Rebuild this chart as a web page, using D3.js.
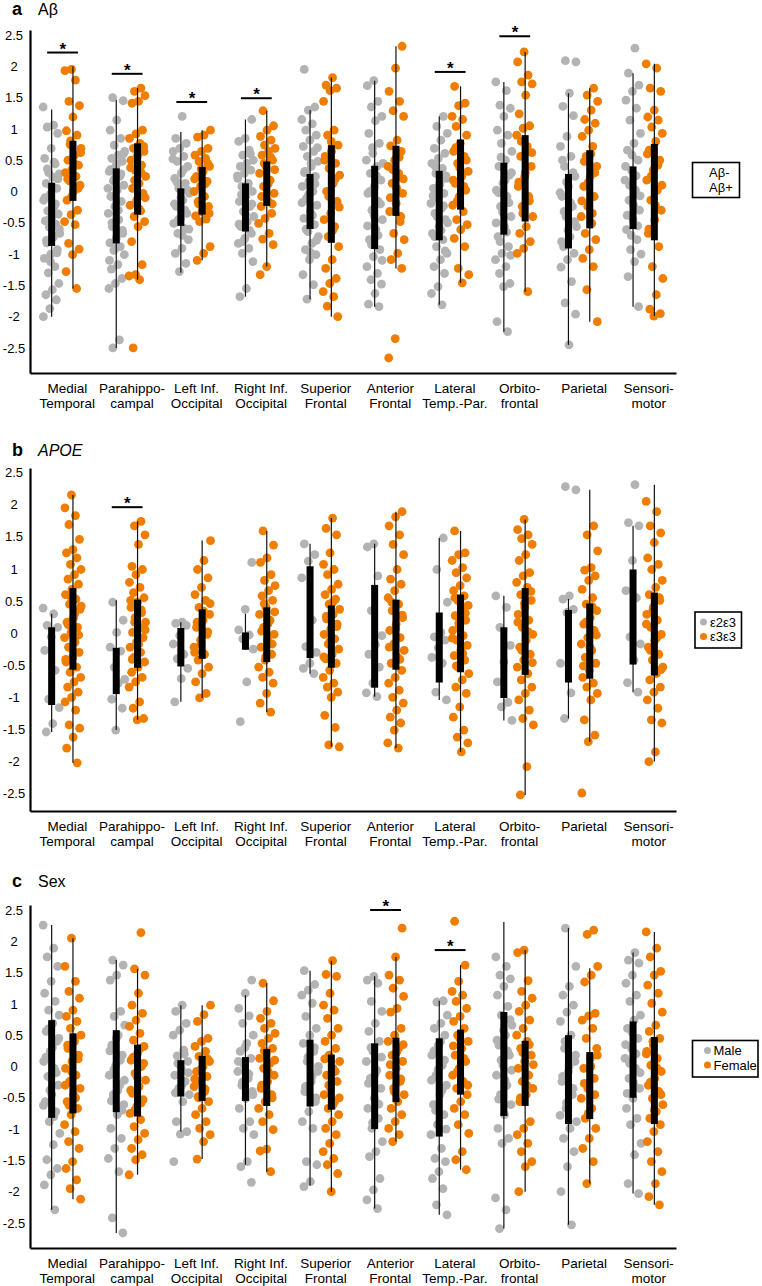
<!DOCTYPE html>
<html><head><meta charset="utf-8">
<script src="https://cdn.jsdelivr.net/npm/d3@7"></script>
<style>
body{margin:0;background:#fff}
svg{display:block}
text{font-family:"Liberation Sans", Arial, sans-serif;fill:#000}
</style>
</head><body>
<svg id="chart" width="762" height="1286"></svg>
<script>
// ---------- shared categories / ticks ----------
const regions = [["Medial","Temporal"],["Parahippo-","campal"],["Left Inf.","Occipital"],["Right Inf.","Occipital"],["Superior","Frontal"],["Anterior","Frontal"],["Lateral","Temp.-Par."],["Orbito-","frontal"],["Parietal"],["Sensori-","motor"]];
const yTickValues = [2.5,2,1.5,1,0.5,0,-0.5,-1,-1.5,-2,-2.5];

// ---------- panel a : Aβ ----------
const abNeg = [
[1.35,1.06,1.03,0.93,0.69,0.53,0.44,0.30,0.28,0.23,0.13,0.05,-0.04,-0.14,-0.24,-0.31,-0.36,-0.41,-0.47,-0.52,-0.57,-0.67,-0.73,-0.82,-0.93,-1.0,-1.07,-1.2,-1.3,-1.47,-1.57,-1.65,-1.73,-1.87,-2.0,0.47,0.36,0.2,0.08,-0.1,-0.2,-0.45,-0.6,-0.7,-0.78,-0.98,-1.12],
[1.5,1.45,1.14,0.98,0.85,0.74,0.64,0.58,0.53,0.48,0.4,0.32,0.24,0.17,0.1,0.02,-0.08,-0.16,-0.24,-0.35,-0.45,-0.56,-0.67,-0.75,-0.82,-0.88,-0.94,-1.01,-1.17,-1.24,-1.39,-1.47,-1.55,-2.37,-2.5,0.6,0.44,0.35,0.28,0.2,0.05,-0.3,-0.5,-0.62,-0.9,-1.1],
[1.2,0.85,0.77,0.69,0.64,0.56,0.48,0.4,0.29,0.21,0.13,0.05,-0.03,-0.14,-0.24,-0.35,-0.43,-0.51,-0.59,-0.67,-0.77,-0.91,-0.99,-1.15,-1.28,0.52,0.35,0.15,0.02,-0.1,-0.2,-0.3,-0.45,-0.6,-0.7],
[1.15,0.85,0.8,0.66,0.58,0.5,0.45,0.4,0.34,0.29,0.21,0.13,0.08,0.0,-0.08,-0.16,-0.24,-0.32,-0.4,-0.48,-0.56,-0.67,-0.75,-0.83,-0.91,-0.99,-1.12,-1.55,-1.68,0.6,0.38,0.25,0.1,-0.05,-0.2,-0.36,-0.52,-0.62,-0.8],
[1.95,1.35,1.30,1.15,1.08,0.98,0.9,0.82,0.72,0.64,0.56,0.48,0.4,0.32,0.24,0.16,0.08,0.0,-0.11,-0.22,-0.32,-0.43,-0.53,-0.64,-0.72,-0.83,-0.93,-1.01,-1.09,-1.33,-1.49,-1.72,0.7,0.45,0.3,0.12,-0.05,-0.18,-0.38,-0.6,-0.78,-0.97],
[1.77,1.69,1.44,1.35,1.2,1.13,0.93,0.77,0.61,0.5,0.4,0.29,0.18,0.08,-0.03,-0.16,-0.3,-0.45,-0.61,-0.77,-0.93,-1.04,-1.2,-1.31,-1.41,-1.48,-1.63,-1.8,-1.84,0.7,0.45,0.25,0.0,-0.2,-0.38,-0.55,-0.7,-0.85,-1.1],
[1.2,1.04,0.93,0.82,0.69,0.61,0.53,0.45,0.37,0.29,0.21,0.13,0.05,-0.03,-0.11,-0.19,-0.27,-0.35,-0.45,-0.56,-0.67,-0.77,-0.88,-0.99,-1.09,-1.2,-1.31,-1.52,-1.63,-1.81,0.4,0.25,0.1,-0.07,-0.23,-0.4,-0.5,-0.62,-0.72,-0.95],
[1.75,1.61,1.38,1.33,1.2,0.98,0.9,0.77,0.64,0.5,0.4,0.26,0.13,0.02,-0.08,-0.24,-0.4,-0.56,-0.72,-0.88,-0.99,-1.09,-1.2,-1.31,-1.47,-1.52,-2.08,-2.24,0.55,0.3,0.18,-0.02,-0.18,-0.33,-0.5,-0.65,-0.8,-1.02],
[2.09,2.07,1.57,1.36,1.21,0.88,0.72,0.56,0.4,0.24,0.08,-0.08,-0.24,-0.4,-0.56,-0.72,-0.88,-0.99,-1.09,-1.21,-1.44,-1.78,-1.96,-2.45,0.5,0.3,0.15,-0.02,-0.18,-0.32,-0.48,-0.62,-0.8],
[2.29,1.89,1.7,1.6,1.46,1.33,1.14,0.93,0.77,0.66,0.5,0.34,0.18,0.02,-0.14,-0.3,-0.45,-0.61,-0.77,-0.93,-1.0,-1.12,-1.36,-1.84,0.58,0.4,0.25,0.1,-0.07,-0.22,-0.38,-0.55,-0.7]
];
const abPos = [
[1.95,1.93,1.78,1.44,1.37,1.19,0.97,0.9,0.81,0.69,0.58,0.5,0.42,0.35,0.3,0.24,0.17,0.10,0.0,-0.14,-0.3,-0.37,-0.48,-0.53,-0.83,-0.92,-1.01,-1.28,-1.55,0.75,0.62,0.45,0.2,0.05,-0.08],
[1.65,1.6,1.53,1.44,1.41,0.98,0.92,0.85,0.77,0.69,0.64,0.58,0.5,0.42,0.34,0.24,0.13,0.05,-0.03,-0.14,-0.22,-0.31,-0.4,-0.48,-0.56,-0.8,-1.17,-1.33,-1.35,-1.41,-2.5,0.72,0.55,0.38,0.3,0.18,-0.1,-0.27],
[0.98,0.9,0.87,0.69,0.64,0.58,0.53,0.48,0.4,0.32,0.24,0.16,0.08,0.0,-0.08,-0.16,-0.24,-0.32,-0.39,-0.44,-0.48,-0.88,-0.99,-1.1,0.45,0.36,0.2,0.12,-0.2,-0.35],
[1.29,1.05,0.98,0.88,0.82,0.74,0.69,0.64,0.58,0.5,0.4,0.29,0.18,0.08,-0.03,-0.14,-0.24,-0.35,-0.43,-0.51,-0.67,-0.76,-0.85,-1.2,-1.33,0.55,0.45,0.35,0.12,-0.08,-0.2],
[1.82,1.7,1.65,1.61,1.44,0.98,0.9,0.74,0.64,0.56,0.45,0.37,0.26,0.13,0.0,-0.16,-0.35,-0.45,-0.56,-0.72,-0.88,-1.09,-1.23,-1.39,-1.47,-1.6,-1.68,-1.83,-2.0,0.8,0.5,0.2,-0.08,-0.25,-0.62],
[2.32,1.97,1.6,1.44,1.29,1.2,0.82,0.73,0.64,0.5,0.4,0.29,0.13,-0.03,-0.19,-0.32,-0.48,-0.67,-0.77,-0.99,-1.09,-1.23,-2.35,-2.66,0.55,0.35,0.2,0.05,-0.1,-0.4],
[1.68,1.41,1.37,1.2,1.15,1.04,0.9,0.77,0.64,0.56,0.45,0.32,0.24,0.13,0.02,-0.08,-0.22,-0.32,-0.45,-0.53,-0.61,-0.75,-0.88,-1.23,-1.33,-1.46,0.7,0.5,0.38,0.18,0.08,-0.15],
[2.23,2.07,1.86,1.75,1.72,1.54,1.24,1.05,1.01,0.9,0.72,0.56,0.4,0.24,0.08,-0.08,-0.24,-0.4,-0.56,-0.67,-0.8,-0.91,-0.99,-1.6,0.8,0.62,0.3,0.15,-0.15,-0.35],
[1.65,1.54,1.44,1.3,1.15,1.09,0.98,0.88,0.72,0.56,0.4,0.24,0.08,-0.08,-0.24,-0.4,-0.51,-0.67,-0.77,-0.93,-1.07,-1.2,-1.57,-2.08,0.6,0.48,0.3,0.15,-0.15,-0.35],
[2.04,1.97,1.65,1.6,1.3,1.19,1.14,1.03,0.93,0.8,0.66,0.5,0.34,0.18,0.02,-0.14,-0.3,-0.45,-0.67,-0.88,-1.2,-1.39,-1.65,-1.88,-1.95,-1.99,0.6,0.42,0.25,0.1,-0.22,-0.6]
];
const abNegIQR = [[-0.87,0.14],[-0.83,0.37],[-0.55,0.05],[-0.64,0.13],[-0.6,0.28],[-0.92,0.41],[-0.78,0.33],[-0.69,0.46],[-0.91,0.28],[-0.6,0.4]];
const abPosIQR = [[-0.15,0.81],[-0.37,0.77],[-0.37,0.39],[-0.23,0.48],[-0.82,0.74],[-0.39,0.73],[-0.29,0.83],[-0.48,0.9],[-0.59,0.66],[-0.78,0.76]];
const abNegRange = [[-2.0,1.31],[-2.5,1.46],[-1.3,0.95],[-1.68,1.15],[-1.72,1.3],[-1.84,1.77],[-1.81,1.2],[-2.24,1.75],[-2.45,1.57],[-1.84,1.89]];
const abPosRange = [[-1.55,2.0],[-1.41,1.65],[-1.1,0.98],[-1.2,1.29],[-2.0,1.82],[-1.23,2.32],[-1.46,1.68],[-1.6,2.23],[-2.08,1.65],[-1.99,2.04]];
const abSigRegion = [0,1,2,3,6,7];
const abSigLevel = [2.22,1.88,1.43,1.49,1.91,2.48];

// ---------- panel b : APOE ----------
const apoe23 = [
[0.39,0.30,0.12,0.09,-0.06,-0.27,-0.58,-1.03,-1.16,-1.41,-1.54],
[0.48,0.20,0.01,-0.22,-0.28,-0.53,-0.72,-0.78,-1.03,-1.17,-1.51],
[0.17,0.15,0.12,-0.04,-0.17,-0.33,-0.40,-0.55,-0.71,-1.07],
[1.10,0.37,0.05,-0.03,-0.09,-0.25,-0.76,-1.38],
[1.39,1.22,1.12,0.86,0.20,-0.21,-0.30,-0.47,-0.55,-0.63],
[1.39,1.34,0.89,0.35,-0.04,-0.18,-0.33,-0.53,-0.78,-0.93,-0.99],
[1.48,0.99,0.48,0.01,-0.06,-0.11,-0.23,-0.38,-0.47,-0.92,-1.04],
[0.58,0.40,0.09,-0.19,-0.45,-0.76,-1.08,-1.15,-1.36],
[2.28,2.23,0.58,0.53,0.37,0.32,-0.47,-0.93,-1.33],
[2.31,1.72,1.67,1.13,0.66,0.55,-0.06,-0.17,-0.42,-0.77,-0.92]
];
const apoe33 = [
[2.15,1.95,1.83,1.69,1.46,1.30,1.25,1.17,1.07,0.99,0.91,0.84,0.76,0.68,0.60,0.53,0.45,0.37,0.24,0.17,0.09,0.01,-0.07,-0.14,-0.22,-0.30,-0.38,-0.45,-0.53,-0.61,-0.69,-0.76,-0.84,-0.92,-1.00,-1.07,-1.20,-1.43,-1.48,-1.62,-1.79,-2.02,0.57,0.42,0.30,0.13,-0.03,-0.25,-0.41],
[1.74,1.67,1.53,1.38,1.04,0.99,0.91,0.79,0.71,0.63,0.55,0.48,0.40,0.32,0.24,0.17,0.09,0.01,-0.07,-0.14,-0.22,-0.30,-0.38,-0.45,-0.53,-0.61,-0.69,-0.76,-0.84,-1.07,-1.17,-1.33,-1.35,0.51,0.36,0.17,0.05,-0.17,-0.41],
[1.44,1.13,0.99,0.86,0.71,0.60,0.51,0.40,0.29,0.20,0.09,-0.02,-0.11,-0.22,-0.33,-0.42,-0.53,-0.63,-0.76,-0.94,-1.01,0.46,0.34,0.17,0.02,-0.17,-0.30],
[1.59,1.37,1.17,1.10,0.91,0.82,0.74,0.66,0.58,0.51,0.40,0.29,0.20,0.09,-0.02,-0.11,-0.22,-0.33,-0.42,-0.53,-0.61,-0.69,-0.78,-0.94,-1.09,-1.23,0.46,0.33,0.15,0.03,-0.17,-0.37],
[1.79,1.63,1.53,1.25,1.07,0.99,0.91,0.76,0.68,0.60,0.53,0.45,0.37,0.29,0.22,0.14,0.06,-0.02,-0.09,-0.17,-0.25,-0.33,-0.40,-0.47,-0.58,-0.69,-0.78,-0.84,-0.92,-1.00,-1.28,-1.47,-1.74,-1.77,0.48,0.26,0.10,-0.12,-0.37],
[1.89,1.81,1.67,1.53,1.38,1.22,0.99,0.84,0.76,0.66,0.55,0.45,0.35,0.24,0.14,0.04,-0.07,-0.17,-0.27,-0.38,-0.47,-0.58,-0.69,-0.78,-0.89,-1.00,-1.09,-1.20,-1.31,-1.40,-1.51,-1.71,-1.79,0.48,0.28,0.07,-0.22,-0.41],
[1.59,1.25,1.22,1.13,1.02,0.94,0.86,0.74,0.66,0.58,0.51,0.43,0.35,0.27,0.20,0.12,0.04,-0.04,-0.11,-0.19,-0.27,-0.35,-0.42,-0.53,-0.63,-0.73,-0.84,-0.94,-1.15,-1.31,-1.51,-1.62,-1.71,-1.85,0.55,0.31,0.15,-0.08,-0.32,-0.51],
[1.77,1.61,1.53,1.47,1.38,1.22,1.13,0.94,0.89,0.79,0.71,0.60,0.51,0.40,0.29,0.20,0.09,-0.02,-0.11,-0.22,-0.33,-0.42,-0.53,-0.63,-0.73,-0.84,-0.94,-1.04,-1.20,-1.33,-1.43,-2.08,-2.52,0.65,0.46,0.17,0.02,-0.27,-0.46],
[1.67,1.53,1.28,1.02,0.98,0.89,0.82,0.68,0.55,0.45,0.35,0.24,0.14,0.04,-0.07,-0.17,-0.27,-0.38,-0.47,-0.58,-0.69,-0.78,-0.84,-0.94,-1.04,-1.35,-1.59,-1.69,-2.49,0.41,0.17,-0.03,-0.22,-0.51],
[2.05,1.89,1.67,1.56,1.41,1.17,1.07,0.99,0.82,0.71,0.60,0.51,0.40,0.29,0.20,0.09,-0.02,-0.11,-0.22,-0.33,-0.42,-0.53,-0.63,-0.73,-0.84,-0.92,-1.04,-1.17,-1.35,-1.40,-1.85,-2.00,0.55,0.36,0.14,-0.07,-0.27,-0.57]
];
const apoe23IQR = [[-1.12,0.09],[-0.95,-0.23],[-0.52,0.08],[-0.26,0.01],[-0.39,1.04],[-0.85,0.75],[-0.77,0.32],[-1.01,0.09],[-0.77,0.36],[-0.49,0.99]];
const apoe33IQR = [[-0.57,0.7],[-0.54,0.52],[-0.40,0.37],[-0.45,0.40],[-0.54,0.43],[-0.57,0.52],[-0.61,0.60],[-0.65,0.70],[-0.71,0.46],[-0.66,0.63]];
const apoe23Range = [[-1.54,0.30],[-1.51,0.51],[-1.07,0.17],[-0.26,0.30],[-0.63,1.39],[-0.99,1.39],[-1.04,1.48],[-1.36,0.58],[-1.33,0.53],[-0.92,1.67]];
const apoe33Range = [[-2.02,2.15],[-1.35,1.74],[-1.01,1.44],[-1.23,1.59],[-1.77,1.79],[-1.79,1.89],[-1.85,1.59],[-2.52,1.77],[-1.69,2.23],[-2.0,2.31]];
const apoeSigRegion = [1];
const apoeSigLevel = [1.96];

// ---------- panel c : Sex ----------
const male = [
[2.26,1.89,1.75,1.6,1.36,1.17,1.04,0.9,0.82,0.69,0.56,0.4,0.24,0.08,-0.03,-0.16,-0.3,-0.45,-0.56,-0.72,-0.88,-1.07,-1.25,-1.49,-1.63,-1.73,-1.89,-2.29,0.6,0.45,0.3,0.15,-0.1,-0.38,-0.62,-0.8],
[1.7,1.62,1.46,1.38,0.88,0.8,0.66,0.5,0.34,0.18,0.02,-0.14,-0.3,-0.45,-0.61,-0.77,-0.99,-1.15,-1.31,-1.47,-1.68,-2.42,-2.66,0.45,0.25,0.1,-0.05,-0.22,-0.38,-0.55,-0.7],
[0.98,0.88,0.69,0.58,0.5,0.26,0.17,0.08,-0.03,-0.14,-0.24,-0.35,-0.45,-0.56,-0.88,-1.04,-1.08,-1.52,0.2,0.05,-0.1,-0.3,-0.42],
[1.38,1.17,0.93,0.81,0.69,0.5,0.37,0.24,0.13,0.02,-0.08,-0.19,-0.3,-0.4,-0.51,-0.67,-0.88,-0.99,-1.09,-1.52,-1.6,-1.85,0.3,0.08,-0.12,-0.25,-0.45],
[1.53,1.31,1.22,1.14,1.01,0.8,0.61,0.5,0.37,0.24,0.08,-0.08,-0.24,-0.4,-0.56,-0.72,-0.88,-0.99,-1.52,-1.57,-1.84,-1.92,0.3,0.15,0.0,-0.16,-0.32,-0.5],
[1.44,1.38,1.33,1.04,0.88,0.69,0.56,0.4,0.24,0.08,-0.06,-0.19,-0.35,-0.51,-0.67,-0.83,-0.99,-1.2,-1.36,-1.44,-1.79,-1.97,-2.13,-2.27,0.3,0.15,-0.12,-0.27,-0.6,-0.9],
[1.05,1.03,0.82,0.69,0.61,0.5,0.34,0.18,0.02,-0.14,-0.3,-0.45,-0.61,-0.77,-0.93,-1.09,-1.31,-1.47,-1.52,-1.68,-1.79,-1.95,-2.21,-2.37,0.4,0.25,0.1,-0.05,-0.22,-0.38,-0.7,-1.0],
[1.75,1.6,1.46,1.4,1.28,1.14,0.96,0.82,0.66,0.5,0.34,0.18,0.02,-0.14,-0.3,-0.45,-0.61,-0.77,-0.99,-1.15,-1.23,-2.1,-2.29,-2.59,0.75,0.58,0.42,0.25,0.1,-0.06,-0.22,-0.52],
[2.21,1.6,1.28,1.14,0.98,0.87,0.72,0.5,0.29,0.08,-0.08,-0.24,-0.45,-0.67,-0.88,-0.99,-1.15,-1.36,-1.6,-2.0,-2.53,0.4,0.18,0.0,-0.16,-0.35,-0.58,-0.78],
[1.82,1.7,1.65,1.46,1.33,1.14,1.04,0.82,0.74,0.61,0.45,0.29,0.13,-0.03,-0.19,-0.35,-0.51,-0.67,-0.83,-0.93,-1.23,-1.41,-1.87,-2.03,0.55,0.35,0.2,0.05,-0.1,-0.27,-0.43]
];
const female = [
[2.05,1.6,1.36,1.2,1.09,0.9,0.8,0.72,0.61,0.5,0.4,0.29,0.18,0.08,-0.03,-0.14,-0.24,-0.35,-0.45,-0.56,-0.67,-0.77,-0.93,-1.04,-1.2,-1.31,-1.52,-1.63,-1.81,-1.95,-2.12,0.45,0.34,0.12,-0.08,-0.3,-0.5,-0.62],
[2.14,1.56,1.46,1.17,0.98,0.85,0.74,0.64,0.53,0.42,0.32,0.21,0.1,0.0,-0.11,-0.22,-0.32,-0.43,-0.53,-0.64,-0.75,-0.85,-0.96,-1.07,-1.17,-1.31,-1.41,-1.49,-1.73,0.28,0.15,0.05,-0.17,-0.38,-0.58,-0.7],
[0.98,0.83,0.72,0.45,0.4,0.32,0.24,0.16,0.08,0.0,-0.08,-0.16,-0.24,-0.32,-0.4,-0.48,-0.56,-0.67,-0.77,-0.88,-0.99,-1.09,-1.2,-1.48,0.12,-0.04,-0.2,-0.36,-0.5],
[1.33,1.05,0.88,0.77,0.69,0.61,0.53,0.45,0.37,0.29,0.21,0.13,0.05,-0.03,-0.14,-0.24,-0.35,-0.45,-0.56,-0.67,-0.77,-0.88,-1.01,-1.32,-1.35,-1.68,0.25,0.1,-0.08,-0.3,-0.5],
[1.69,1.47,1.44,1.17,0.98,0.9,0.77,0.61,0.5,0.4,0.29,0.18,0.08,-0.03,-0.14,-0.24,-0.35,-0.45,-0.56,-0.67,-0.77,-0.88,-0.99,-1.09,-1.23,-1.36,-1.47,-1.57,-1.71,-2.0,0.12,-0.08,-0.3,-0.5,-0.62],
[2.21,1.75,1.46,1.38,1.25,1.12,0.93,0.87,0.61,0.5,0.4,0.29,0.18,0.08,-0.03,-0.14,-0.24,-0.35,-0.45,-0.56,-0.67,-0.77,-0.88,-0.99,-1.09,-1.2,0.35,0.23,0.03,-0.2,-0.4],
[2.32,1.62,1.36,1.2,1.14,1.04,0.93,0.8,0.72,0.61,0.5,0.4,0.29,0.18,0.08,-0.03,-0.14,-0.24,-0.35,-0.45,-0.56,-0.67,-0.77,-0.93,-1.07,-1.36,-1.49,-1.65,0.45,0.33,0.13,-0.08,-0.3],
[1.86,1.82,1.37,1.2,1.09,0.98,0.88,0.74,0.61,0.5,0.4,0.29,0.18,0.08,-0.03,-0.14,-0.24,-0.35,-0.45,-0.56,-0.88,-0.99,-1.09,-1.23,-1.36,-1.52,-1.6,-2.0,0.35,0.22,0.03,-0.3,-0.5],
[2.18,2.11,1.6,1.46,1.35,0.85,0.81,0.74,0.61,0.45,0.29,0.13,-0.03,-0.19,-0.35,-0.51,-0.67,-0.83,-0.99,-1.15,-1.31,-1.52,-1.87,0.18,0.0,-0.27,-0.45,-0.75],
[2.15,1.89,1.75,1.52,1.46,1.3,1.17,1.01,0.87,0.66,0.56,0.45,0.34,0.24,0.13,0.02,-0.08,-0.19,-0.3,-0.4,-0.51,-0.61,-0.72,-0.83,-0.93,-1.04,-1.2,-1.36,-1.52,-1.68,-1.87,-2.08,-2.21,0.4,0.2,-0.02,-0.25,-0.45,-0.7]
];
const maleIQR = [[-0.82,0.74],[-0.73,0.58],[-0.48,0.1],[-0.55,0.15],[-0.64,0.43],[-1.0,0.37],[-1.12,0.45],[-0.79,0.87],[-0.92,0.5],[-0.5,0.72]];
const femaleIQR = [[-0.75,0.53],[-0.8,0.35],[-0.55,0.17],[-0.63,0.28],[-0.69,0.19],[-0.57,0.46],[-0.45,0.59],[-0.63,0.41],[-0.84,0.23],[-0.92,0.47]];
const maleRange = [[-2.29,2.26],[-2.66,1.7],[-1.04,0.98],[-1.57,1.14],[-1.9,1.53],[-2.27,1.44],[-2.37,1.05],[-2.59,2.31],[-2.53,2.21],[-2.03,1.82]];
const femaleRange = [[-2.12,2.05],[-1.73,1.56],[-1.48,0.98],[-1.68,1.33],[-2.0,1.69],[-1.2,1.75],[-1.65,1.62],[-2.0,1.86],[-1.87,1.57],[-2.21,2.15]];
const sexSigRegion = [5,6];
const sexSigLevel = [2.5,1.86];

// ---------- styling ----------
const GRAY = "#b3b3b3", ORANGE = "#ef7d00";

const panels = [
  {top:30, titleY:15, yDomain:[-2.9,2.58], letter:"a", title:"Aβ", italic:false, series:[abNeg,abPos], iqr:[abNegIQR,abPosIQR], range:[abNegRange,abPosRange], sig:[abSigRegion,abSigLevel], legend:{names:["Aβ-","Aβ+"], markers:false, box:[692.5,162.5,47,35]}},
  {top:468, titleY:456, yDomain:[-2.77,2.57], letter:"b", title:"APOE", italic:true, series:[apoe23,apoe33], iqr:[apoe23IQR,apoe33IQR], range:[apoe23Range,apoe33Range], sig:[apoeSigRegion,apoeSigLevel], legend:{names:["ε2ε3","ε3ε3"], markers:true, box:[695,612,46.5,36]}},
  {top:905, titleY:887, yDomain:[-2.9,2.58], letter:"c", title:"Sex", italic:false, series:[male,female], iqr:[maleIQR,femaleIQR], range:[maleRange,femaleRange], sig:[sexSigRegion,sexSigLevel], legend:{names:["Male","Female"], markers:true, box:[692.5,1040.5,65.5,36.5]}}
];

const svg = d3.select("#chart");
const H = 343;
const x = d3.scaleBand().domain(d3.range(regions.length)).range([30,676]);
const half = 10.65, barW = 7, jitterW = 17;
const colors = [GRAY, ORANGE];

panels.forEach(p => {
  const y = d3.scaleLinear().domain(p.yDomain).range([p.top + H, p.top]);
  const g = svg.append("g");

  // title
  const t = g.append("text").attr("x", 12).attr("y", p.titleY).style("font-size","16px");
  t.append("tspan").attr("font-weight","bold").style("font-size","18px").text(p.letter);
  t.append("tspan").attr("x", 38).style("font-style", p.italic ? "italic" : "normal").text(p.title);

  // points
  p.series.forEach((ser, s) => {
    ser.forEach((vals, r) => {
      const cx = x(r) + x.bandwidth()/2 + (s === 0 ? -half : half);
      g.append("g").selectAll("circle").data(vals).join("circle")
        .attr("cx", (d, i) => cx + (((i * 0.6180339887 + r * 0.29 + s * 0.41) % 1) - 0.5) * jitterW)
        .attr("cy", d => y(d))
        .attr("r", 4.4)
        .attr("fill", colors[s]);
    });
  });

  // whiskers and IQR bars
  p.series.forEach((ser, s) => {
    ser.forEach((vals, r) => {
      const cx = x(r) + x.bandwidth()/2 + (s === 0 ? -half : half);
      const rg = p.range[s][r], q = p.iqr[s][r];
      g.append("line").attr("x1", cx).attr("x2", cx).attr("y1", y(rg[1])).attr("y2", y(rg[0]))
        .attr("stroke", "#111").attr("stroke-width", 1.2);
      g.append("rect").attr("x", cx - barW/2).attr("width", barW)
        .attr("y", y(q[1])).attr("height", y(q[0]) - y(q[1])).attr("fill", "#000");
    });
  });

  // significance markers
  p.sig[0].forEach((r, k) => {
    const c = x(r) + x.bandwidth()/2;
    const ly = y(p.sig[1][k]);
    g.append("line").attr("x1", c - half - 4.5).attr("x2", c + half + 5).attr("y1", ly).attr("y2", ly)
      .attr("stroke", "#000").attr("stroke-width", 2);
    g.append("text").attr("x", c + 0.5).attr("y", ly + 2).attr("text-anchor","middle")
      .style("font-size","17px").attr("font-weight","bold").text("*");
  });

  // y axis
  const ya = g.append("g").attr("transform", "translate(30,0)")
    .call(d3.axisLeft(y).tickValues(yTickValues).tickSize(0).tickSizeOuter(0).tickFormat(d => String(d)));
  ya.select(".domain").attr("stroke", "#000").attr("stroke-width", 2.2);
  ya.selectAll(".tick text").attr("text-anchor", "middle").attr("x", -16)
    .style("font-size", "13px").style("font-family", "Liberation Sans, Arial, sans-serif").attr("fill", "#000");

  // x axis
  const xa = g.append("g").attr("transform", `translate(0,${p.top + H})`)
    .call(d3.axisBottom(x).tickSize(0).tickSizeOuter(0).tickFormat(""));
  xa.select(".domain").attr("stroke", "#000").attr("stroke-width", 2.2);
  xa.selectAll(".tick").each(function(r) {
    const tx = d3.select(this).append("text").attr("text-anchor", "middle")
      .style("font-size", "13.5px").attr("fill", "#000");
    regions[r].forEach((line, k) => {
      tx.append("tspan").attr("x", 5).attr("y", 19.5 + 15 * k).text(line);
    });
  });

  // legend
  const L = p.legend, b = L.box;
  const lg = g.append("g");
  lg.append("rect").attr("x", b[0]).attr("y", b[1]).attr("width", b[2]).attr("height", b[3])
    .attr("fill", "#fff").attr("stroke", "#000").attr("stroke-width", 1.6);
  L.names.forEach((n, k) => {
    const ty = b[1] + 14.5 + k * 14.5;
    if (L.markers) {
      lg.append("circle").attr("cx", b[0] + (b[2] > 55 ? 15 : 8.5)).attr("cy", ty - 4.5).attr("r", 3.5).attr("fill", colors[k]);
    }
    lg.append("text").attr("x", L.markers ? b[0] + (b[2] > 55 ? 21 : 15) : b[0] + 16.5).attr("y", ty)
      .style("font-size", "13px").text(n);
  });
});
</script>
</body></html>
